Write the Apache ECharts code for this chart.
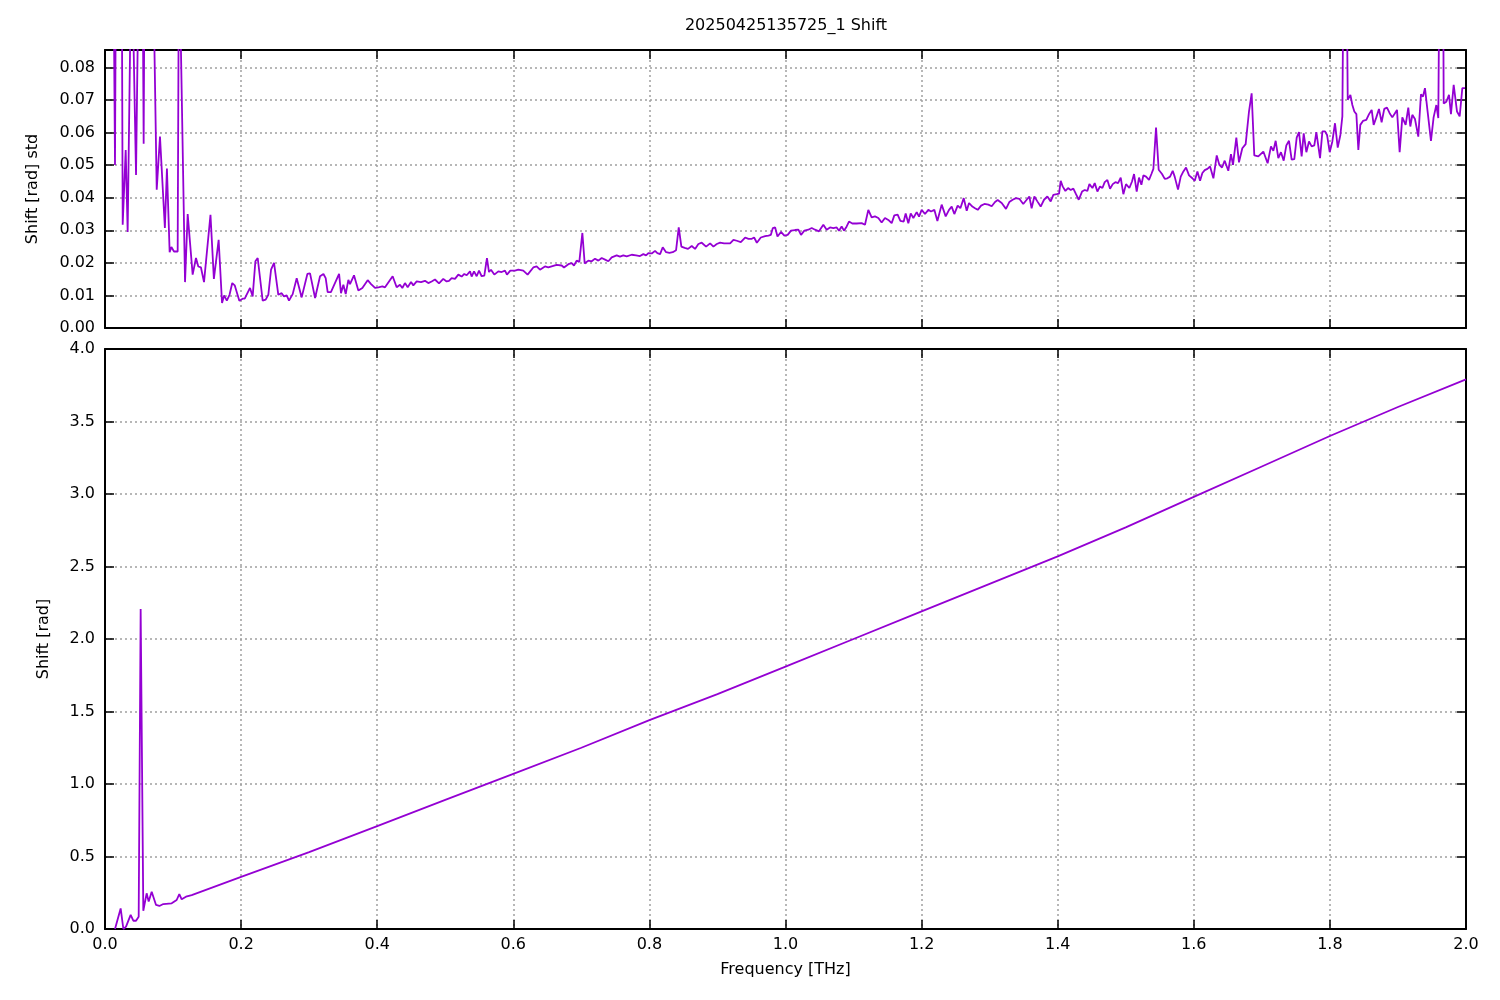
<!DOCTYPE html>
<html>
<head>
<meta charset="utf-8">
<script src="https://cdn.jsdelivr.net/npm/echarts@6/dist/echarts.min.js"></script>
<style>
html,body{margin:0;padding:0;background:#fff;}
#chart{width:1500px;height:1000px;}
</style>
</head>
<body>
<div id="chart"></div>
<script>
const chartTitle = '20250425135725_1 Shift';
const xTickLabels = ['0.0','0.2','0.4','0.6','0.8','1.0','1.2','1.4','1.6','1.8','2.0'];

// Top panel: Shift [rad] std
const stdFreq = [
0.0122,0.0147,0.0162,0.0245,0.026,0.0304,0.0333,0.039,0.0416,0.0456,0.05,0.055,0.0568,0.0583,0.070,0.076,0.0808,0.088,0.091,0.095,
0.0975,0.1014,0.1068,0.1087,0.1112,0.1176,0.1215,0.1288,0.1337,0.1371,0.141,0.1455,0.155,0.160,0.167,0.172,0.175,0.179,0.183,0.187,
0.1906,0.1974,0.2023,0.2053,0.2131,0.217,0.221,0.2244,0.2317,0.2361,0.24,0.244,0.2484,0.2513,0.2547,0.2596,0.263,0.267,0.2704,0.2758,
0.2817,0.289,0.2974,0.3013,0.3087,0.316,0.321,0.3243,
0.3272,0.332,0.344,0.3468,0.3503,0.3537,0.3576,0.36,0.3659,0.3723,0.3782,0.386,0.391,0.3968,0.4017,0.4076,0.4115,0.4227,0.4286,0.4335,
0.4369,0.4408,0.4448,0.4497,0.4531,0.458,0.4644,0.4702,0.4751,0.48,0.4849,0.4908,0.4971,0.502,0.5055,0.5094,0.5143,0.5192,0.5241,0.528,
0.5315,0.5364,0.5388,0.5423,0.5462,0.5496,0.5535,0.5574,0.5613,0.5643,0.5672,0.5721,0.578,0.5829,0.5878,0.5907,0.5956,0.6025,0.6074,0.6147,
0.621,0.6294,0.6343,0.6392,0.6465,0.6514,
0.6637,0.6711,0.6745,0.6809,0.6858,0.6892,0.6931,0.697,0.7015,0.7049,0.7103,0.7152,0.7201,0.725,0.7299,0.7348,0.7397,0.7446,0.7519,0.7568,
0.7617,0.7666,0.774,0.7803,0.7862,0.7911,0.7951,0.7985,0.8034,0.8083,0.8117,0.8157,0.8196,0.8245,0.8294,0.8343,0.8392,0.8431,0.847,0.8519,
0.8568,0.8622,0.8671,0.872,0.8769,0.8833,0.8892,0.8941,0.899,0.9039,0.9098,0.9186,0.9235,0.9284,0.9343,0.9407,0.9456,0.9505,0.9539,0.9579,
0.9637,0.9701,0.975,0.9784,0.9814,0.9848,0.9882,
0.9934,0.9983,1.0032,1.0081,1.014,1.0189,1.0228,1.0277,1.0336,1.0385,1.0434,1.0492,1.0556,1.0605,1.0654,1.0703,1.0752,1.0786,1.0825,1.086,
1.0899,1.0933,1.0982,1.1046,1.1119,1.1168,1.1217,1.1266,1.1315,1.1364,1.1413,1.1462,1.1511,1.156,1.1599,1.1648,1.1688,1.1737,1.1766,1.1805,
1.184,1.1879,1.1928,1.1962,1.2001,1.205,1.2099,1.2138,1.2187,1.2232,1.2295,1.2354,1.2403,1.2442,1.2481,1.253,1.257,1.2619,1.2663,1.2697,
1.2746,1.2785,1.2825,1.2874,1.2923,1.2981,1.303,1.3079,1.3118,1.3177,
1.324,1.3289,1.3338,1.3387,1.3436,1.3494,1.3544,1.3583,1.3617,1.3657,1.3701,1.375,1.3799,1.3848,1.3897,1.3936,1.3985,1.402,1.4044,1.4073,
1.4113,1.4152,1.4191,1.423,1.4269,1.4309,1.4358,1.4397,1.4436,1.4466,1.451,1.4544,1.4583,1.4622,1.4657,1.4691,1.473,1.4769,1.4809,1.4848,
1.4887,1.4926,1.4965,1.5004,1.5053,1.5092,1.5122,1.5161,1.5195,1.523,1.5259,1.5298,1.5342,1.5377,1.5406,1.5445,1.5484,1.5533,1.5573,1.5612,
1.5651,1.569,1.5719,1.5768,1.5808,1.5847,1.5886,1.593,1.5979,1.6014,1.6053,1.6092,1.6126,1.6161,1.62,1.6239,1.6288,1.6337,1.6376,1.6415,1.6454,
1.6507,1.6546,1.6576,1.6625,1.6664,1.6713,1.6762,1.6782,1.6811,1.685,1.6889,1.6948,1.7022,1.7085,1.7134,1.7169,1.7203,1.7242,1.7281,1.7321,
1.736,1.7399,1.7438,1.7477,1.7512,1.7546,1.7585,1.7615,1.7654,1.7693,1.7732,1.7771,1.7801,1.7855,1.789,1.7929,1.7958,1.7997,1.8036,1.8075,
1.8115,1.8154,1.8183,1.8203,1.8242,1.8262,1.8301,1.833,1.8359,1.8389,1.8418,1.8447,1.8486,1.8535,1.8575,1.8614,1.8643,1.8682,1.8721,1.876,
1.8799,1.8839,1.8878,1.8917,1.8956,1.8986,1.9025,1.9064,1.9113,1.9152,1.9182,1.9211,1.925,1.9299,1.9338,1.9368,1.9397,1.9436,1.9485,1.9524,
1.9564,1.9593,1.9613,1.9662,1.9672,1.9711,1.975,1.9779,1.9819,1.9868,1.9907,1.9946,1.9985
];
const stdValues = [
0.12,0.0501,0.12,0.12,0.0317,0.0547,0.0295,0.12,0.12,0.047,0.12,0.12,0.0566,0.12,0.12,0.0425,0.0588,0.0307,0.049,0.0233,
0.0249,0.0235,0.0235,0.12,0.12,0.0141,0.035,0.0164,0.0215,0.0189,0.0186,0.0141,0.0348,0.0151,0.0271,0.0077,0.010,0.0084,0.0102,0.0138,
0.0131,0.0084,0.009,0.009,0.0123,0.0097,0.0205,0.0215,0.0084,0.0087,0.0102,0.0179,0.020,0.0194,0.0102,0.0107,0.0097,0.010,0.0084,0.0104,
0.0153,0.0094,0.0166,0.0168,0.0092,0.0159,0.0166,0.0153,
0.011,0.011,0.0166,0.0107,0.0133,0.0104,0.0148,0.0135,0.0162,0.0115,0.0123,0.0147,0.0135,0.0123,0.0125,0.0128,0.0125,0.0159,0.0125,0.0133,
0.0123,0.0138,0.0125,0.0141,0.0131,0.0143,0.0141,0.0145,0.0138,0.0143,0.0149,0.0137,0.0151,0.0143,0.0145,0.0153,0.0151,0.0164,0.0158,0.0166,
0.0162,0.0174,0.0158,0.0174,0.0159,0.0176,0.0159,0.0161,0.0215,0.0172,0.0179,0.0164,0.0174,0.0172,0.0176,0.0164,0.0176,0.0176,0.0179,0.0176,
0.0164,0.0186,0.0189,0.0179,0.0189,0.0186,
0.0194,0.0192,0.0186,0.0196,0.0199,0.0192,0.0207,0.0203,0.0292,0.0198,0.0207,0.0205,0.0213,0.0207,0.0215,0.021,0.0205,0.0217,0.0223,0.0219,
0.0223,0.022,0.0225,0.0223,0.0221,0.0227,0.0223,0.023,0.0229,0.0237,0.023,0.0227,0.0248,0.0233,0.0231,0.0233,0.0239,0.0309,0.025,0.0246,
0.0243,0.0252,0.0243,0.0258,0.0262,0.025,0.026,0.025,0.0258,0.0262,0.026,0.026,0.0271,0.0268,0.0264,0.0278,0.0274,0.0274,0.0278,0.0262,
0.0278,0.0282,0.0284,0.0286,0.0307,0.0309,0.0281,
0.0295,0.0284,0.0286,0.0299,0.0301,0.0302,0.0286,0.0299,0.0302,0.0307,0.0302,0.0297,0.0317,0.0302,0.0309,0.0307,0.0309,0.0299,0.0312,0.0299,
0.0312,0.0327,0.0321,0.0321,0.0322,0.0317,0.0363,0.034,0.0343,0.0338,0.0324,0.0338,0.0332,0.0322,0.0346,0.0348,0.0329,0.0327,0.0352,0.0322,
0.0352,0.0338,0.0356,0.0342,0.0363,0.035,0.0363,0.0358,0.0363,0.0329,0.0379,0.0343,0.0363,0.0373,0.035,0.0376,0.0368,0.0399,0.036,0.0384,
0.0373,0.0368,0.0363,0.0376,0.0381,0.0379,0.0374,0.0387,0.0393,0.0384,
0.0366,0.0387,0.0394,0.0399,0.0397,0.0381,0.0394,0.0404,0.0368,0.0404,0.0389,0.0373,0.0394,0.0404,0.0389,0.0409,0.0411,0.0413,0.0452,0.0435,
0.0421,0.043,0.0424,0.0428,0.0411,0.0394,0.0419,0.0424,0.0421,0.0442,0.043,0.0445,0.0419,0.0435,0.043,0.0448,0.0455,0.0428,0.0442,0.0448,
0.0445,0.0462,0.0411,0.0442,0.043,0.045,0.0473,0.0419,0.0462,0.044,0.0469,0.0465,0.0455,0.0473,0.0489,0.0616,0.0486,0.0473,0.0458,0.046,
0.0465,0.0483,0.0465,0.0425,0.0465,0.0481,0.0493,0.0469,0.046,0.0452,0.0481,0.0452,0.0476,0.0485,0.0489,0.0496,0.046,0.053,0.0501,0.0493,0.0514,
0.0483,0.0534,0.0501,0.0585,0.0509,0.0552,0.0565,0.0567,0.0665,0.0721,0.053,0.0527,0.0542,0.0506,0.0558,0.0544,0.0575,0.0522,0.054,0.0514,
0.0561,0.0575,0.0517,0.0519,0.0585,0.0602,0.0527,0.0598,0.054,0.0573,0.0558,0.0561,0.0602,0.0522,0.0604,0.0604,0.0593,0.054,0.0573,0.0629,
0.0554,0.0593,0.065,0.12,0.12,0.0701,0.0716,0.0685,0.0665,0.0657,0.0547,0.0624,0.0636,0.0639,0.0657,0.067,0.0624,0.0647,0.0673,0.0632,
0.0673,0.0677,0.066,0.0647,0.066,0.067,0.054,0.0647,0.0624,0.0677,0.0619,0.0655,0.0642,0.0588,0.0718,0.0711,0.0737,0.0665,0.0575,0.0647,
0.0685,0.0645,0.12,0.12,0.069,0.0695,0.0716,0.0657,0.0747,0.0665,0.065,0.0737,0.0737
];

// Bottom panel: Shift [rad]
const shiftFreq = [
0.0147,0.023,0.027,0.0309,0.0377,0.0416,0.0456,0.0495,0.0524,0.0563,0.0612,0.0642,0.0686,0.075,0.0799,0.0857,0.098,0.1053,0.1092,0.1127,
0.119,0.1274,0.2,0.3,0.4,0.5,0.6,0.7,0.8,0.9,1.0,1.1,1.2,1.3,1.4,1.5,1.6,1.7,1.8,1.9,2.0
];
const shiftValues = [
0.0,0.142,0.0,0.016,0.097,0.057,0.057,0.085,2.207,0.126,0.246,0.189,0.257,0.166,0.159,0.172,0.177,0.2,0.241,0.205,
0.223,0.234,0.36,0.53,0.71,0.89,1.07,1.25,1.44,1.62,1.81,2.0,2.19,2.38,2.57,2.77,2.98,3.19,3.40,3.60,3.79
];

const stdData = stdFreq.map((f, i) => [f, stdValues[i]]);
const shiftData = shiftFreq.map((f, i) => [f, shiftValues[i]]);

const FONT = 'DejaVu Sans';
const FS = 16;
const lineColor = '#9400d3';
const gridLineStyle = { color: '#a0a0a0', width: 1.5, type: [2, 3] };
const boxLine = { show: true, onZero: false, lineStyle: { color: '#000', width: 2 } };
const tick = (len) => ({ show: true, inside: true, length: len, lineStyle: { color: '#000', width: 1.5 } });

function xAxisDef(grid, pos, labels, split, name) {
  return {
    type: 'value', gridIndex: grid, position: pos, min: 0, max: 2, interval: 0.2,
    axisLine: boxLine, axisTick: tick(9),
    axisLabel: { show: labels, color: '#000', fontFamily: FONT, fontSize: FS, margin: 8,
      formatter: (v) => xTickLabels[Math.round(v / 0.2)] },
    splitLine: { show: split, lineStyle: gridLineStyle },
    name: name || '', nameLocation: 'middle', nameGap: 33,
    nameTextStyle: { color: '#000', fontFamily: FONT, fontSize: FS }
  };
}
function yAxisDef(grid, pos, max, interval, digits, labels, split, name, gap) {
  return {
    type: 'value', gridIndex: grid, position: pos, min: 0, max: max, interval: interval,
    axisLine: boxLine, axisTick: tick(9),
    axisLabel: { show: labels, color: '#000', fontFamily: FONT, fontSize: FS, margin: 10,
      showMaxLabel: max === 4 ? true : false,
      formatter: (v) => v.toFixed(digits) },
    splitLine: { show: split, lineStyle: gridLineStyle },
    name: name || '', nameLocation: 'middle', nameGap: gap || 0, nameRotate: 90,
    nameTextStyle: { color: '#000', fontFamily: FONT, fontSize: FS }
  };
}

const chart = echarts.init(document.getElementById('chart'), null, { renderer: 'canvas' });
chart.setOption({
  backgroundColor: '#fff',
  animation: false,
  title: { text: chartTitle, left: 781, textAlign: 'center', top: 13,
    textStyle: { color: '#000', fontFamily: FONT, fontSize: FS, fontWeight: 'normal' } },
  grid: [
    { left: 105, width: 1361, top: 50, height: 278 },
    { left: 105, width: 1361, top: 349, height: 580 }
  ],
  xAxis: [
    xAxisDef(0, 'bottom', false, true),
    xAxisDef(0, 'top', false, false),
    xAxisDef(1, 'bottom', true, true, 'Frequency [THz]'),
    xAxisDef(1, 'top', false, false)
  ],
  yAxis: [
    yAxisDef(0, 'left', 0.0854, 0.01, 2, true, true, 'Shift [rad] std', 64),
    yAxisDef(0, 'right', 0.0854, 0.01, 2, false, false),
    yAxisDef(1, 'left', 4, 0.5, 1, true, true, 'Shift [rad]', 53),
    yAxisDef(1, 'right', 4, 0.5, 1, false, false)
  ],
  series: [
    { type: 'line', xAxisIndex: 0, yAxisIndex: 0, data: stdData, showSymbol: false, clip: true,
      lineStyle: { color: lineColor, width: 1.8 }, itemStyle: { color: lineColor } },
    { type: 'line', xAxisIndex: 2, yAxisIndex: 2, data: shiftData, showSymbol: false, clip: true,
      lineStyle: { color: lineColor, width: 1.8 }, itemStyle: { color: lineColor } }
  ]
});
</script>
</body>
</html>
